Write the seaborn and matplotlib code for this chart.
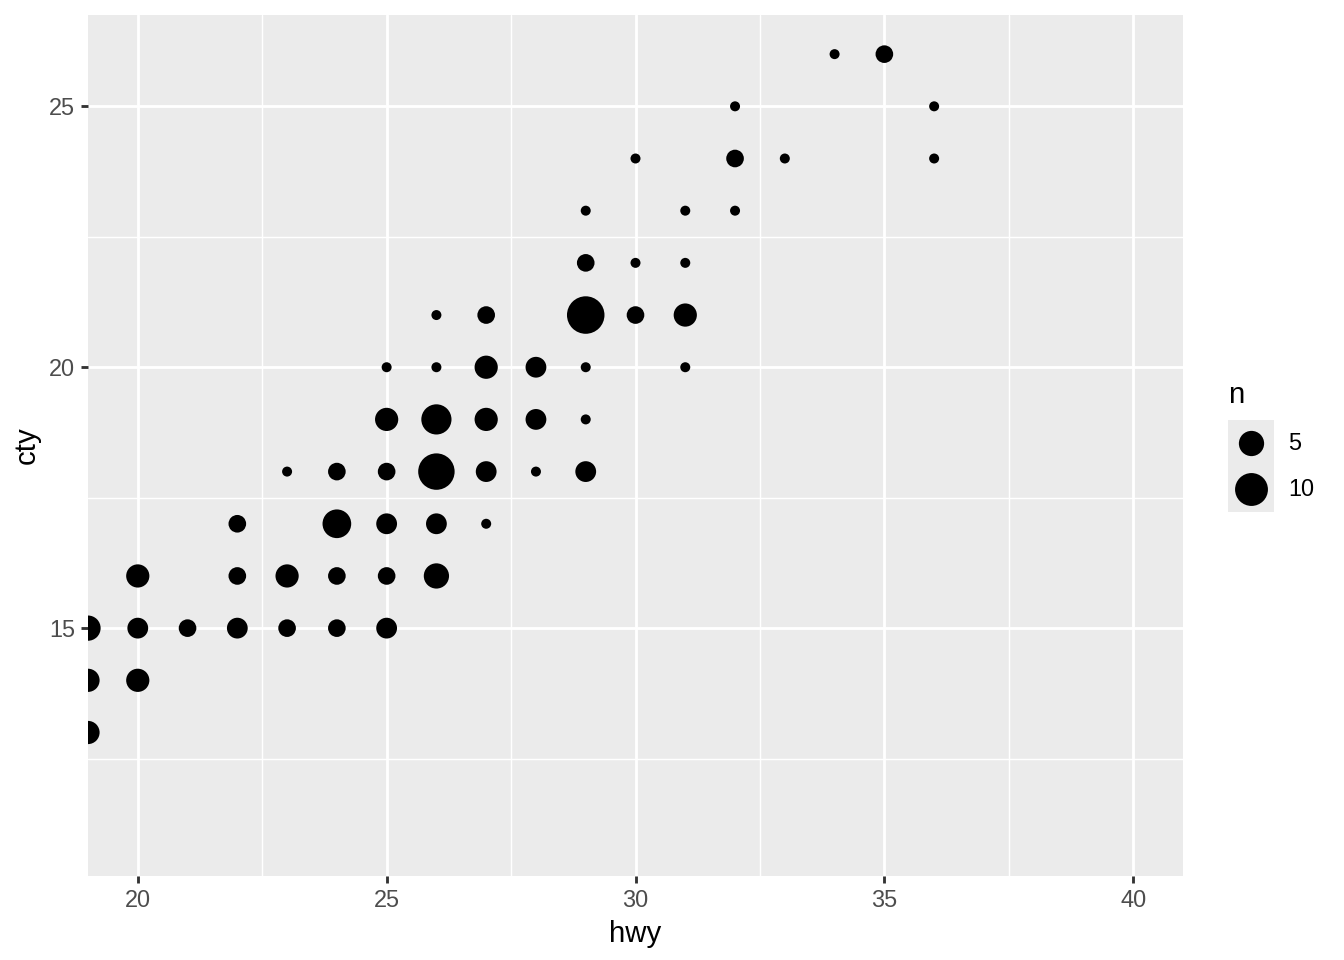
import numpy as np
import pandas as pd
import matplotlib
matplotlib.use("Agg")
import matplotlib.pyplot as plt
import seaborn as sns

# counts of (hwy, cty) pairs
hwy = [19, 19, 19, 20, 20, 20, 21, 22, 22, 22, 23, 23, 23, 24, 24, 24, 24,
       25, 25, 25, 25, 25, 25, 26, 26, 26, 26, 26, 26, 27, 27, 27, 27, 27,
       28, 28, 28, 29, 29, 29, 29, 29, 29, 30, 30, 30, 31, 31, 31, 31,
       32, 32, 32, 33, 34, 35, 36, 36]
cty = [13, 14, 15, 14, 15, 16, 15, 15, 16, 17, 15, 16, 18, 15, 16, 17, 18,
       15, 16, 17, 18, 19, 20, 16, 17, 18, 19, 20, 21, 17, 18, 19, 20, 21,
       18, 19, 20, 18, 19, 20, 21, 22, 23, 21, 22, 24, 20, 21, 22, 23,
       23, 24, 25, 24, 26, 26, 24, 25]
n = [4, 4, 5, 4, 3, 4, 2, 3, 2, 2, 2, 4, 1, 2, 2, 7, 2,
     3, 2, 3, 2, 4, 1, 5, 3, 13, 8, 1, 1, 1, 3, 4, 4, 2,
     1, 3, 3, 3, 1, 1, 14, 2, 1, 2, 1, 1, 1, 4, 1, 1,
     1, 2, 1, 1, 1, 2, 1, 1]

legend_breaks = [5, 10]

df = pd.DataFrame({"hwy": hwy, "cty": cty, "n": n})

DPI = 192
PX = 72 / DPI  # points per pixel
W, H = 1344, 960
n_max = max(n)


def diam_px(k):
    # ggplot-like area scale: size range 1..6 on sqrt of rescaled counts
    return 10 + 27.5 * np.sqrt((k - 1) / (n_max - 1))


size_map = {k: (diam_px(k) * PX) ** 2 for k in sorted(set(n))}

sns.set_theme(style="darkgrid")
plt.rcParams["font.family"] = ["Liberation Sans", "DejaVu Sans"]

fig = plt.figure(figsize=(7, 5), dpi=DPI)
ax = fig.add_axes([88 / W, 1 - 876 / H, (1183 - 88) / W, (876 - 15) / H])
ax.set_facecolor("#EBEBEB")

sns.scatterplot(data=df, x="hwy", y="cty", size="n", sizes=size_map,
                color="black", linewidth=0, legend=False, ax=ax, zorder=3)

ax.set_xlim(19, 41)
ax.set_ylim(10.25, 26.75)
ax.set_xticks([20, 25, 30, 35, 40])
ax.set_yticks([15, 20, 25])
ax.set_xticks([22.5, 27.5, 32.5, 37.5], minor=True)
ax.set_yticks([12.5, 17.5, 22.5], minor=True)
ax.grid(which="major", color="white", linewidth=1.07)
ax.grid(which="minor", color="white", linewidth=0.53)
ax.set_axisbelow(True)
for s in ax.spines.values():
    s.set_visible(False)

ax.tick_params(which="major", length=2.75, width=1.07, color="#333333",
               labelsize=8.8, labelcolor="#4D4D4D", pad=2.2, bottom=True, left=True)
ax.tick_params(which="minor", length=0)
ax.set_xlabel("hwy", fontsize=11, color="black", labelpad=3)
ax.set_ylabel("cty", fontsize=11, color="black", labelpad=3)

# legend drawn by hand, ggplot style (grey key boxes)
lax = fig.add_axes([1228 / W, 1 - 512 / H, 46 / W, 92 / H])
lax.set_facecolor("#EBEBEB")
lax.set_xlim(0, 1)
lax.set_ylim(0, len(legend_breaks))
lax.axis("off")
lax.add_patch(plt.Rectangle((0, 0), 1, len(legend_breaks), facecolor="#EBEBEB",
                            edgecolor="none"))
for i, b in enumerate(legend_breaks):
    yk = len(legend_breaks) - i - 0.5
    lax.scatter([0.5], [yk], s=(diam_px(b) * PX) ** 2, color="black", linewidth=0)
    fig.text(1288 / W, 1 - (443 + 46 * i) / H, str(b), fontsize=8.8,
             color="black", va="center", ha="left")
fig.text(1228 / W, 1 - 395 / H, "n", fontsize=11, color="black",
         va="center", ha="left")

fig.savefig("out.png", dpi=DPI)
